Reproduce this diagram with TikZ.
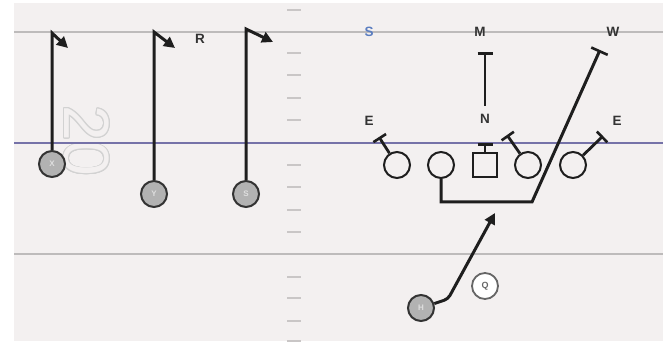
\documentclass[tikz,border=0pt]{standalone}
\usepackage{fontspec}
\setmainfont{Liberation Sans}
\usepackage{contour}
\usetikzlibrary{arrows.meta}
\definecolor{fieldbg}{HTML}{F3F0F0}
\definecolor{scrim}{HTML}{7572A8}
\definecolor{yardline}{HTML}{BDBBBB}
\definecolor{hashc}{HTML}{C9C6C6}
\definecolor{ink}{HTML}{1E1E1E}
\definecolor{sblue}{HTML}{5A7DC0}
\contourlength{0.9pt}
\tikzset{
  lbl/.style={font=\fontsize{13.5}{13.5}\selectfont\bfseries, text=black!80, inner sep=0pt},
  player/.style={circle, minimum size=26pt, inner sep=0pt, fill=gray!60, draw=black!80, line width=2pt,
    font=\fontsize{8}{8}\selectfont\bfseries, text=gray!25},
  lineman/.style={circle, minimum size=26pt, inner sep=0pt, draw=ink, line width=2pt, fill=fieldbg},
  center/.style={rectangle, minimum size=24pt, inner sep=0pt, draw=ink, line width=2pt, fill=fieldbg},
  qb/.style={circle, minimum size=26pt, inner sep=0pt, draw=gray!80!black, line width=1.8pt, fill=white,
    font=\fontsize{9}{9}\selectfont\bfseries, text=gray!80!black},
  route/.style={draw=ink, line width=3pt, -{Triangle[length=11pt,width=11pt]}},
  block/.style={draw=ink, line width=2.8pt, -{Bar[width=15pt,line width=2.6pt]}},
  pull/.style={draw=ink, line width=3pt, line join=miter},
  hash/.style={draw=hashc, line width=1.5pt},
}
\begin{document}
\begin{tikzpicture}[x=1pt,y=-1pt]
\useasboundingbox (0,0) rectangle (667,344);
\fill[white] (0,0) rectangle (667,344);
\fill[fieldbg] (14,3) rectangle (663,341);
% yard number
\node[rotate=-90, font=\fontsize{64}{64}\selectfont, inner sep=0pt] (num) at (86,141) {\contour{gray!35}{\textcolor{fieldbg}{20}}};
% lines
\draw[yardline, line width=2.2pt] (14,32) -- (663,32);
\draw[yardline, line width=2.2pt] (14,254) -- (663,254);
\draw[scrim, line width=2.8pt] (14,143) -- (663,143);
% hash marks
\foreach \yy in {10,53,75,98,120,165,187,210,232,277,298,321,341}
  \draw[hash] (287,\yy) -- (301,\yy);
% receivers
\node[player] (X) at (52,164) {X};
\node[player] (Y) at (154,194) {Y};
\node[player] (S) at (246,194) {S};
\coordinate (x1) at (52,33);  \coordinate (x2) at (68,48);
\coordinate (y1) at (154,32); \coordinate (y2) at (175,48);
\coordinate (s1) at (246,29); \coordinate (s2) at (273,42);
\draw[route] (X) -- (x1) -- (x2);
\draw[route] (Y) -- (y1) -- (y2);
\draw[route] (S) -- (s1) -- (s2);
% labels
\node[lbl] (R) at (200,39) {R};
\node[lbl, text=sblue] (Sl) at (369,32) {S};
\node[lbl] (M) at (480,32) {M};
\node[lbl] (W) at (613,32) {W};
\node[lbl] (E1) at (369,121) {E};
\node[lbl] (N) at (485,119) {N};
\node[lbl] (E2) at (617,121) {E};
% linemen
\node[lineman] (LT) at (397,165) {};
\node[lineman] (LG) at (441,165) {};
\node[center] (C) at (485,165) {};
\node[lineman] (RG) at (528,165) {};
\node[lineman] (RT) at (573,165) {};
% blocks
\coordinate (lt1) at (379,137);
\coordinate (c1) at (485,143);
\coordinate (rg1) at (507,135);
\coordinate (rt1) at (603,136);
\draw[block] (LT) -- (lt1);
\draw[block] (C) -- (c1);
\draw[block] (RG) -- (rg1);
\draw[block] (RT) -- (rt1);
\coordinate (m1) at (485,106);
\coordinate (m2) at (485,52);
\draw[block] (m1) -- (m2);
% pulling path
\coordinate (p1) at (441,202);
\coordinate (p2) at (532,202);
\coordinate (p3) at (600,50);
\draw[pull, -{Bar[width=18pt,line width=2.6pt]}] (LG) -- (p1) -- (p2) -- (p3);
% backs
\node[player] (H) at (421,308) {H};
\node[qb] (Q) at (485,286) {Q};
\coordinate (h1) at (448,299);
\coordinate (h2) at (495,213);
\draw[route, rounded corners=4pt] (H) -- (h1) -- (h2);
\end{tikzpicture}
\end{document}
